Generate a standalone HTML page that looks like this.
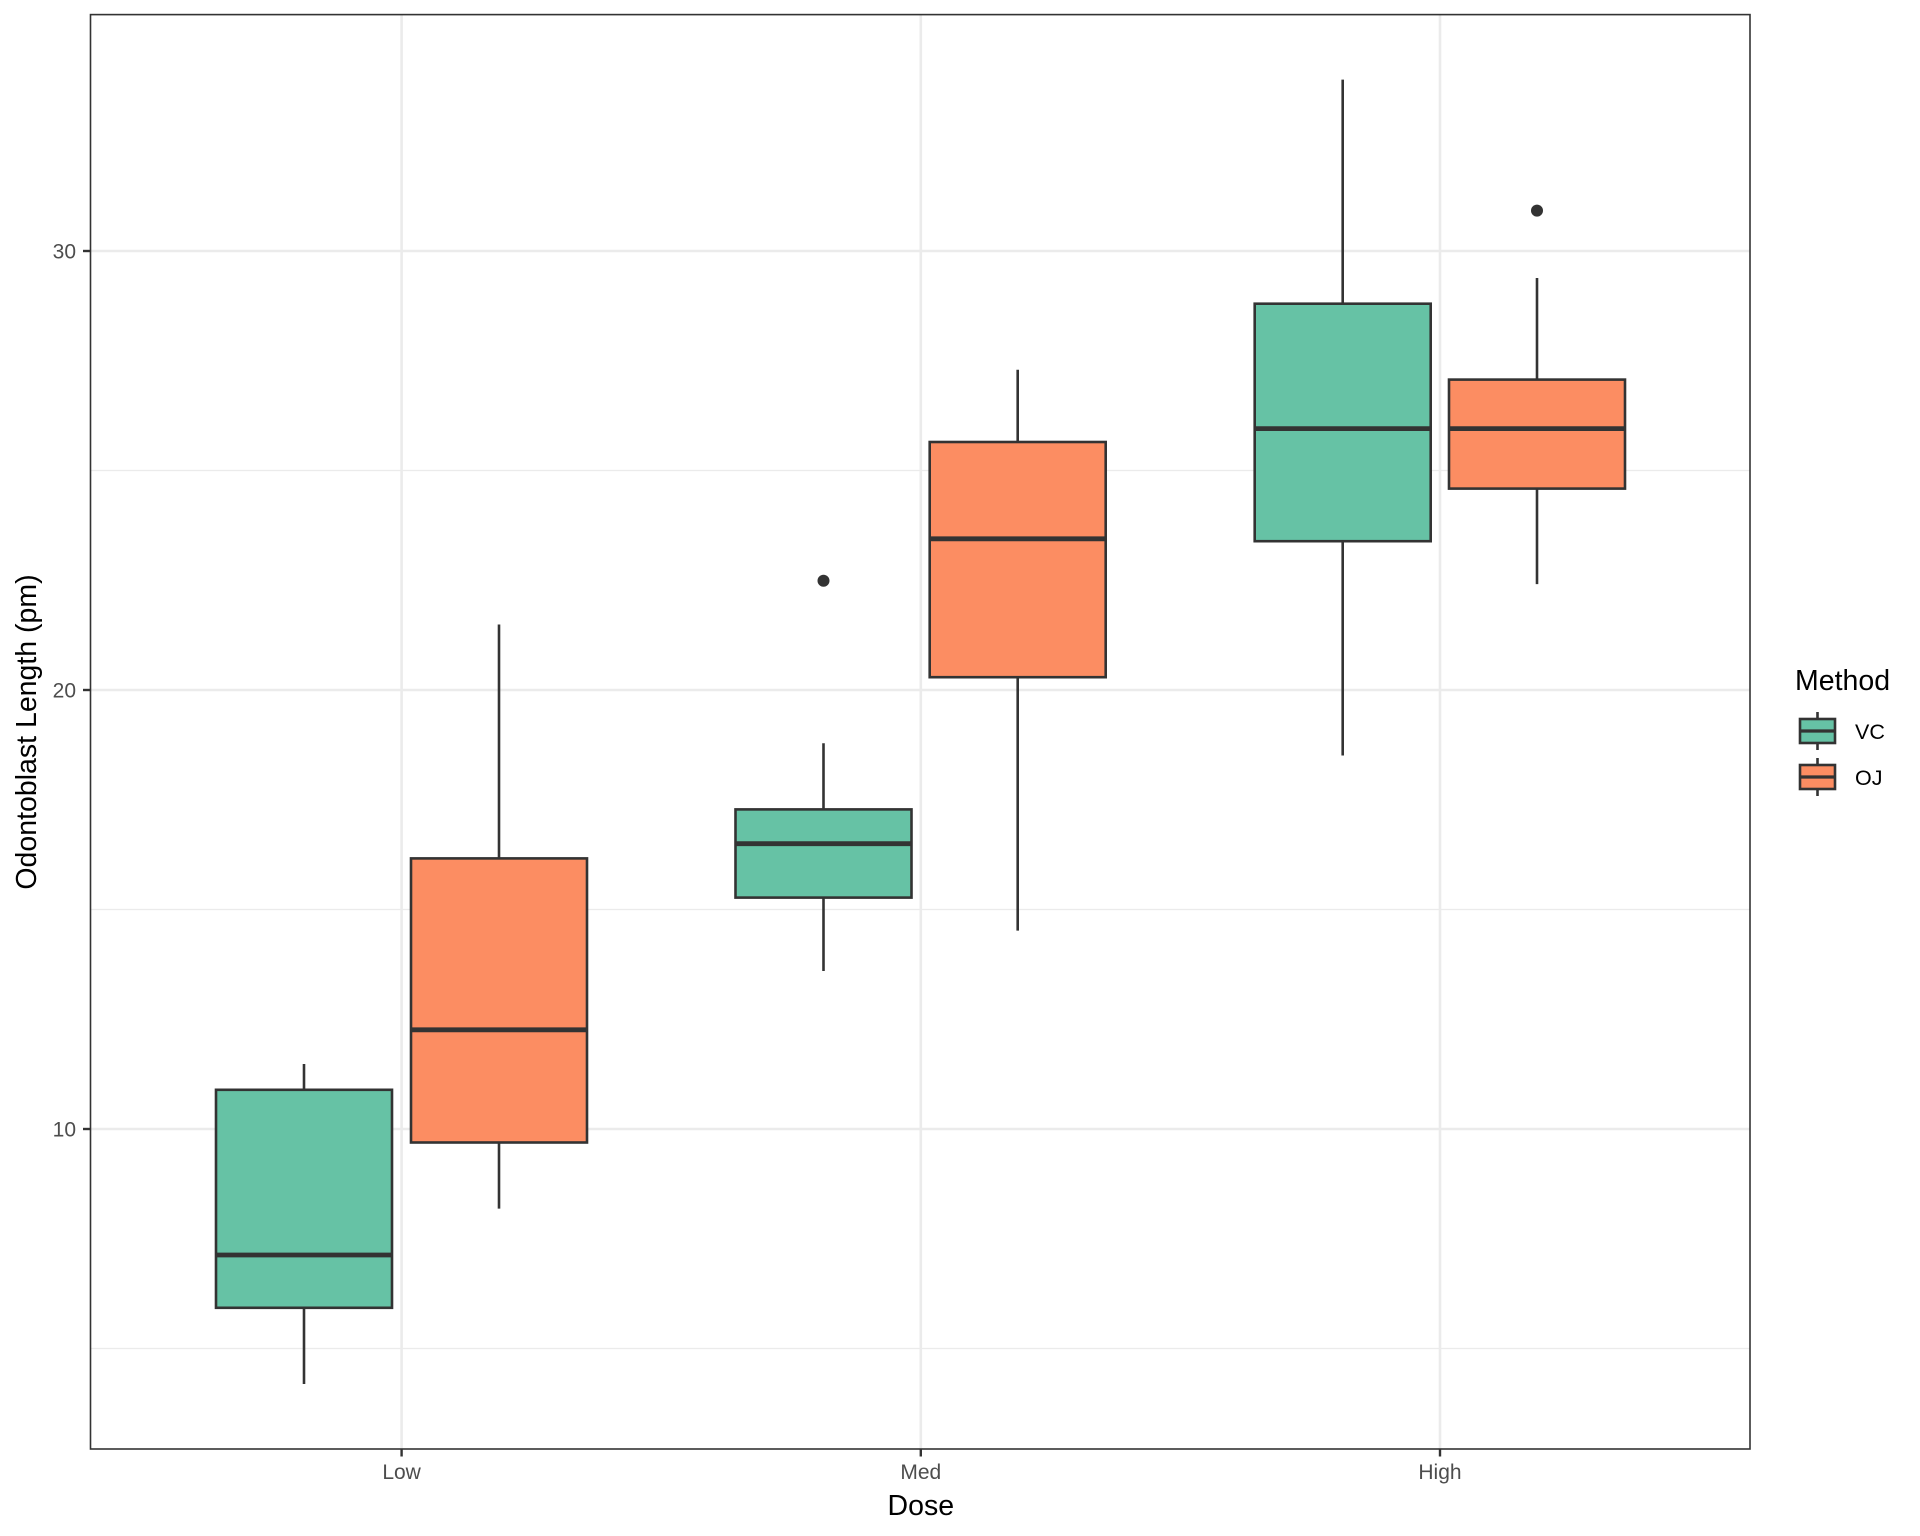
<!DOCTYPE html>
<html><head><meta charset="utf-8"><style>body{margin:0;background:#fff}svg{display:block}</style></head>
<body>
<svg width="1920" height="1536" viewBox="0 0 1920 1536" xmlns="http://www.w3.org/2000/svg" font-family="Liberation Sans, sans-serif">
<rect width="1920" height="1536" fill="#fff"/>
<g stroke="#EBEBEB">
<line x1="90.5" x2="1750" y1="470.5" y2="470.5" stroke-width="1.3"/>
<line x1="90.5" x2="1750" y1="909.5" y2="909.5" stroke-width="1.3"/>
<line x1="90.5" x2="1750" y1="1348.5" y2="1348.5" stroke-width="1.3"/>
<line x1="90.5" x2="1750" y1="251" y2="251" stroke-width="2.6"/>
<line x1="90.5" x2="1750" y1="690" y2="690" stroke-width="2.6"/>
<line x1="90.5" x2="1750" y1="1129" y2="1129" stroke-width="2.6"/>
<line x1="401.6" x2="401.6" y1="14.6" y2="1449" stroke-width="2.6"/>
<line x1="920.8" x2="920.8" y1="14.6" y2="1449" stroke-width="2.6"/>
<line x1="1440" x2="1440" y1="14.6" y2="1449" stroke-width="2.6"/>
</g>
<g stroke="#333" stroke-width="2.6">
<line x1="304" x2="304" y1="1064" y2="1384"/>
<rect x="216" y="1089.8" width="176" height="218" fill="#66C2A5"/>
<line x1="216" x2="392" y1="1255" y2="1255" stroke-width="4.8"/>
<line x1="499" x2="499" y1="624.5" y2="1208.6"/>
<rect x="411" y="858.4" width="176" height="284.1" fill="#FC8D62"/>
<line x1="411" x2="587" y1="1029.8" y2="1029.8" stroke-width="4.8"/>
<line x1="823.5" x2="823.5" y1="743.3" y2="971"/>
<rect x="735.5" y="809.4" width="176" height="88.2" fill="#66C2A5"/>
<line x1="735.5" x2="911.5" y1="843.7" y2="843.7" stroke-width="4.8"/>
<line x1="1017.7" x2="1017.7" y1="369.8" y2="930.6"/>
<rect x="929.7" y="442" width="176" height="235.2" fill="#FC8D62"/>
<line x1="929.7" x2="1105.7" y1="538.8" y2="538.8" stroke-width="4.8"/>
<line x1="1342.7" x2="1342.7" y1="79.6" y2="755.5"/>
<rect x="1254.7" y="303.7" width="176" height="237.5" fill="#66C2A5"/>
<line x1="1254.7" x2="1430.7" y1="428.6" y2="428.6" stroke-width="4.8"/>
<line x1="1537" x2="1537" y1="278" y2="584.1"/>
<rect x="1449" y="379.6" width="176" height="109" fill="#FC8D62"/>
<line x1="1449" x2="1625" y1="428.6" y2="428.6" stroke-width="4.8"/>
</g>
<circle cx="823.5" cy="580.7" r="6" fill="#333"/>
<circle cx="1537" cy="210.6" r="6" fill="#333"/>
<rect x="90.5" y="14.6" width="1659.5" height="1434.4" fill="none" stroke="#333" stroke-width="1.6"/>
<g stroke="#333" stroke-width="2.4">
<line x1="83" x2="90.5" y1="251" y2="251"/>
<line x1="83" x2="90.5" y1="690" y2="690"/>
<line x1="83" x2="90.5" y1="1129" y2="1129"/>
<line x1="401.6" x2="401.6" y1="1449" y2="1456.5"/>
<line x1="920.8" x2="920.8" y1="1449" y2="1456.5"/>
<line x1="1440" x2="1440" y1="1449" y2="1456.5"/>
</g>
<g fill="#4D4D4D" font-size="21">
<text x="76" y="258.5" text-anchor="end">30</text>
<text x="76" y="697.5" text-anchor="end">20</text>
<text x="76" y="1136.5" text-anchor="end">10</text>
<text x="401.6" y="1479" text-anchor="middle">Low</text>
<text x="920.8" y="1479" text-anchor="middle">Med</text>
<text x="1440" y="1479" text-anchor="middle">High</text>
</g>
<text x="920.8" y="1515" text-anchor="middle" font-size="28.5" fill="#000">Dose</text>
<text transform="translate(36,732) rotate(-90)" text-anchor="middle" font-size="28.5" fill="#000">Odontoblast Length (pm)</text>
<text x="1795" y="690" font-size="28.5" fill="#000">Method</text>
<g stroke="#333" stroke-width="2.6">
<line x1="1817.5" x2="1817.5" y1="712" y2="750"/>
<rect x="1800" y="719" width="35" height="24" fill="#66C2A5"/>
<line x1="1800" x2="1835" y1="731" y2="731" stroke-width="3.2"/>
<line x1="1817.5" x2="1817.5" y1="758" y2="796"/>
<rect x="1800" y="765" width="35" height="24" fill="#FC8D62"/>
<line x1="1800" x2="1835" y1="777" y2="777" stroke-width="3.2"/>
</g>
<text x="1855" y="739" font-size="21.5" fill="#000">VC</text>
<text x="1855" y="785" font-size="21.5" fill="#000">OJ</text>
</svg>
</body></html>
